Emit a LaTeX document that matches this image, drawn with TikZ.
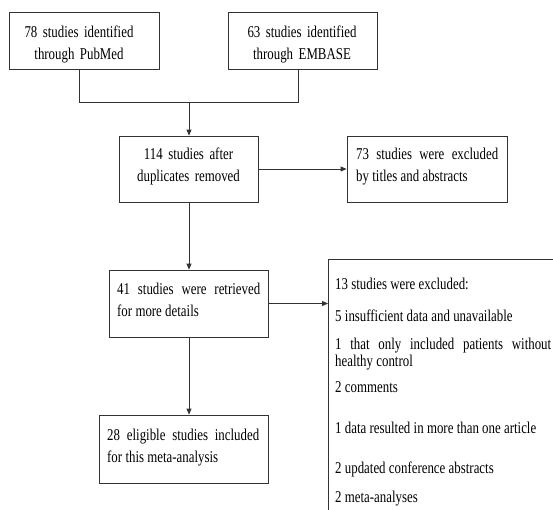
\documentclass[tikz,border=0pt]{standalone}
\usepackage{fontspec}
\setmainfont{Liberation Serif}[FakeStretch=0.78]
\usetikzlibrary{arrows.meta}
\newcommand\myspacing{\spaceskip=3.3pt plus 8pt\relax\hyphenpenalty=10000\relax\exhyphenpenalty=10000\relax}
\begin{document}
\begin{tikzpicture}[x=1pt,y=-1pt,
  box/.style={draw=black!80, line width=0.8pt, inner sep=0pt, rectangle},
  txt/.style={inner sep=0pt, text=black, font=\fontsize{16.5}{22}\selectfont, anchor=base},
  txtj/.style={txt, align=justify, anchor=base west, execute at begin node=\myspacing},
  conn/.style={draw=black!80, line width=0.8pt},
  arr/.style={conn, -{Triangle[length=6pt,width=5pt]}}]
\clip (0,0) rectangle (553,509);
\fill[white] (0,0) rectangle (553,509);
% boxes
\node[box, minimum width=150pt, minimum height=57pt] (b1) at (84,40.5) {};
\node[box, minimum width=149pt, minimum height=57pt] (b2) at (302.5,40.5) {};
\node[box, minimum width=139pt, minimum height=66pt] (b3) at (188.5,169) {};
\node[box, minimum width=160pt, minimum height=66pt] (b4) at (427,169) {};
\node[box, minimum width=159pt, minimum height=67pt] (b5) at (188.5,303.5) {};
\node[box, minimum width=169pt, minimum height=68pt] (b6) at (183.5,449) {};
\node[box, minimum width=260pt, minimum height=280pt, anchor=north west] (b7) at (328,259) {};
% texts
\node[txt, text width=150pt, align=center] (t1) at (79,37) {78 studies identified\\through PubMed};
\node[txt, text width=149pt, align=center] (t2) at (302,37) {63 studies identified\\through EMBASE};
\node[txt, text width=139pt, align=center] (t3) at (188.5,159) {114 studies after\\duplicates removed};
\node[txtj, text width=142pt] (t4) at (356,159) {73 studies were excluded by titles and abstracts};
\node[txtj, text width=143pt] (t5) at (117,294) {41 studies were retrieved for more details};
\node[txtj, text width=152pt] (t6) at (107,440) {28 eligible studies included for this meta-analysis};
\node[txtj, text width=216pt] (e1) at (335,289) {13 studies were excluded:};
\node[txtj, text width=216pt] (e2) at (335,321) {5 insufficient data and unavailable};
\node[txtj, text width=216pt, font=\fontsize{16.5}{17}\selectfont] (e3) at (335,349) {1 that only included patients without healthy control};
\node[txtj, text width=216pt] (e4) at (335,392) {2 comments};
\node[txtj, text width=216pt] (e5) at (335,433) {1 data resulted in more than one article};
\node[txtj, text width=216pt] (e6) at (335,473) {2 updated conference abstracts};
\node[txtj, text width=216pt] (e7) at (335,502) {2 meta-analyses};
% connectors
\coordinate (j1) at (79,102);
\coordinate (j2) at (298,102);
\coordinate (jm) at (189,102);
\draw[conn] (b1.south -| j1) -- (j1) -- (j2) -- (b2.south -| j2);
\draw[arr] (jm) -- (b3.north -| jm);
\draw[arr] (b3.east) -- (b4.west);
\draw[arr] (b3.south -| jm) -- (b5.north -| jm);
\draw[arr] (b5.east) -- (b5.east -| b7.west);
\draw[arr] (b5.south -| jm) -- (b6.north -| jm);
\end{tikzpicture}
\end{document}
